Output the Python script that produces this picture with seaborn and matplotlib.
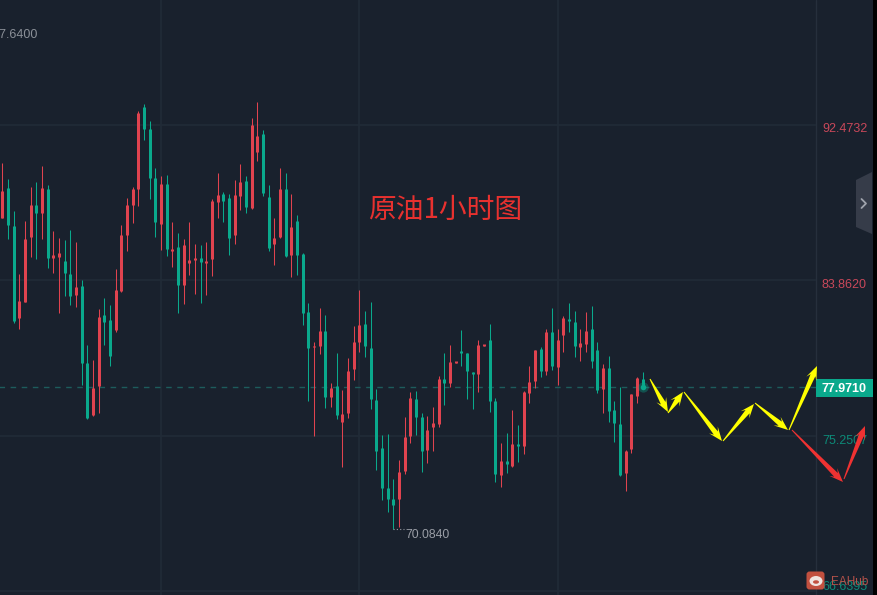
import numpy as np
import pandas as pd
import matplotlib
matplotlib.use("Agg")
import matplotlib.pyplot as plt
import matplotlib.patches as mpatches
import matplotlib.transforms as mtrans
import seaborn as sns

# K-line values
opens = [87.32, 88.98, 86.88, 81.78, 82.67, 86.27, 88.04, 87.60, 88.93, 85.11, 85.16, 84.94, 84.22, 83.06, 83.56, 79.29, 76.41, 78.02, 81.95,
         81.67, 81.12, 83.28, 86.38, 88.04, 88.93, 93.47, 92.25, 89.54, 86.99, 89.20, 85.49, 85.72, 83.61, 84.83, 85.00, 85.11, 84.83, 85.05,
         88.21, 88.65, 88.43, 86.38, 88.54, 89.37, 87.88, 90.98, 91.97, 88.48, 85.88, 86.27, 88.93, 85.27, 87.16, 85.33, 82.12, 80.18, 80.23,
         81.06, 77.41, 78.02, 76.02, 76.52, 78.96, 80.45, 81.45, 80.12, 77.24, 74.58, 72.37, 71.76, 71.76, 73.31, 75.25, 77.30, 76.30, 74.47,
         75.75, 75.92, 78.41, 78.19, 79.30, 79.91, 79.85, 78.74, 78.69, 80.24, 80.57, 77.19, 73.09, 73.87, 73.59, 74.81, 74.70, 77.64, 78.30,
         80.07, 78.85, 81.01, 79.08, 80.85, 81.73, 81.57, 80.18, 80.35, 81.18, 80.02, 77.86, 79.02, 76.69, 75.92, 73.21, 74.53, 77.47, 78.41]
highs = [90.35, 89.48, 87.71, 84.22, 87.16, 89.04, 89.31, 90.20, 89.15, 86.60, 86.21, 86.10, 86.66, 85.99, 83.89, 80.29, 79.46, 82.28, 82.89,
         82.50, 84.50, 86.93, 88.43, 89.04, 93.25, 93.63, 92.69, 90.09, 89.65, 89.70, 87.10, 86.49, 86.16, 87.10, 85.88, 85.83, 85.99, 88.37,
         89.81, 88.76, 88.65, 89.43, 90.31, 89.65, 92.86, 93.75, 92.19, 89.15, 87.32, 90.09, 89.81, 88.65, 87.49, 85.38, 82.61, 80.45, 82.34,
         81.95, 78.18, 79.84, 77.80, 79.57, 81.34, 83.33, 82.17, 82.67, 77.85, 75.30, 75.36, 72.87, 73.92, 76.30, 77.68, 77.74, 76.52, 76.36,
         76.86, 78.58, 79.85, 80.29, 79.35, 81.12, 79.85, 78.80, 80.57, 80.29, 81.46, 77.36, 74.87, 75.42, 76.69, 75.86, 77.75, 79.13, 80.02,
         80.18, 81.18, 82.34, 81.18, 81.90, 82.62, 82.18, 81.18, 82.12, 82.45, 80.46, 79.24, 79.68, 77.19, 77.97, 74.48, 77.58, 78.52, 78.80]
lows = [87.32, 86.16, 81.51, 81.17, 82.67, 85.16, 85.05, 86.16, 84.55, 84.28, 82.06, 83.00, 82.50, 82.39, 78.07, 76.19, 76.36, 76.52, 80.29,
        79.13, 81.01, 83.22, 85.49, 87.04, 87.99, 91.64, 88.37, 86.27, 85.55, 85.22, 84.61, 82.06, 82.56, 84.16, 83.11, 82.61, 83.06, 84.11,
        87.32, 87.10, 85.27, 85.88, 87.76, 87.60, 87.82, 90.48, 88.54, 85.49, 84.72, 86.21, 85.16, 84.05, 84.16, 81.40, 77.19, 75.25, 79.79,
        76.80, 76.85, 76.19, 73.53, 76.25, 78.35, 79.90, 79.62, 76.74, 73.37, 71.70, 71.04, 70.08, 70.21, 73.14, 74.86, 75.30, 73.25, 73.75,
        74.42, 75.75, 76.97, 77.97, 79.30, 79.13, 77.30, 76.75, 77.69, 80.24, 76.58, 72.71, 72.43, 73.21, 73.54, 73.81, 74.26, 77.08, 77.91,
        78.52, 78.63, 78.91, 78.08, 79.91, 81.01, 79.63, 79.41, 79.91, 79.02, 77.64, 76.53, 76.03, 74.92, 73.04, 72.21, 74.31, 77.08, 77.97]
closes = [88.82, 86.93, 81.62, 82.72, 86.16, 88.04, 87.60, 88.98, 85.11, 85.27, 85.38, 84.28, 83.00, 83.50, 79.29, 76.25, 77.91, 81.84, 81.56,
          79.68, 83.33, 86.38, 88.04, 88.93, 93.14, 92.25, 89.54, 87.10, 89.20, 85.60, 85.60, 83.61, 85.83, 85.00, 85.11, 84.88, 84.94, 88.26,
          88.60, 88.26, 86.21, 88.60, 89.31, 87.93, 92.47, 91.86, 88.71, 85.66, 86.21, 88.93, 85.22, 86.82, 85.27, 82.06, 80.12, 80.23, 81.06,
          77.41, 77.91, 76.41, 76.47, 78.85, 80.45, 81.40, 80.23, 77.30, 74.42, 72.37, 71.76, 71.43, 73.25, 75.19, 77.35, 76.30, 74.42, 75.58,
          75.97, 78.41, 78.19, 79.35, 79.35, 79.85, 78.85, 78.69, 80.29, 80.29, 77.19, 73.15, 73.87, 73.70, 74.81, 74.70, 77.69, 78.24, 80.02,
          78.85, 81.01, 79.13, 80.57, 81.79, 81.62, 80.24, 80.40, 81.07, 79.41, 77.80, 79.02, 76.64, 75.97, 73.09, 74.42, 77.58, 78.47, 77.97]

grid_prices = [92.4732, 83.8620, 75.2507, 66.6395]
grid_labels = ["92.4732", "83.8620", "75.2507", "66.6395"]
label_y = [129, 285, 441, 587]
grid_candles = [28, 63, 98]
last_price = 77.9710
low_price = 70.0840

# hand drawn arrows on top of the screenshot, in pixels
yellow_arrows = [((650, 379), (668, 412)), ((668, 413), (683, 392)), ((684, 392), (722, 441)),
                 ((723, 441), (754, 404)), ((755, 403), (788, 430)), ((789, 430), (817, 366))]
red_arrows = [((792, 430), (843, 482)), ((844, 479), (865, 426))]

BG = "#19212d"
RED = "#e0434f"
GREEN = "#0aa98c"
GRID = "#212b37"

sns.set_theme(style="dark", rc={"axes.facecolor": BG, "figure.facecolor": BG})
plt.rcParams["font.family"] = ["Liberation Sans", "Noto Sans CJK SC", "DejaVu Sans"]

df = pd.DataFrame({"open": opens, "high": highs, "low": lows, "close": closes})
df["idx"] = df.index
df["top"] = df[["open", "close"]].max(axis=1)
df["bottom"] = df[["open", "close"]].min(axis=1)
# flat candles still show as a small dash
df["top"] = np.maximum(df["top"], df["bottom"] + 0.08)
df["up"] = df["close"] >= df["open"]

fig = plt.figure(figsize=(8.77, 5.95), dpi=100)
ax = fig.add_axes([0, 0, 1, 1])

# pixel coordinates of the screenshot, for the things drawn over the chart
px = mtrans.Affine2D().scale(1, -1).translate(0, 595)

x_right = 143.5
for gx in grid_candles:
    ax.axvline(gx, color=GRID, lw=1.2, zorder=0)
ax.axvline(x_right, color="#262f3c", lw=1, zorder=0)
ax.hlines(grid_prices, -5, x_right, color=GRID, lw=1.2, zorder=0)
ax.hlines(last_price, -5, x_right, color="#1d5c5c", lw=1, linestyles=(0, (4, 4)), zorder=1)

# candles, wick and body both as vertical lines so they stay centred on each other
for up, col in [(True, RED), (False, GREEN)]:
    part = df[df["up"] == up]
    wicks = part.melt(id_vars="idx", value_vars=["low", "high"], value_name="price")
    bodies = part.melt(id_vars="idx", value_vars=["bottom", "top"], value_name="price")
    sns.lineplot(data=wicks, x="idx", y="price", units="idx", estimator=None, sort=False, color=col,
                 lw=0.75, solid_capstyle="butt", legend=False, ax=ax, zorder=2)
    sns.lineplot(data=bodies, x="idx", y="price", units="idx", estimator=None, sort=False, color=col,
                 lw=2.16, solid_capstyle="butt", legend=False, ax=ax, zorder=3)

ax.scatter([113], [last_price], s=55, color=GREEN, alpha=0.35, linewidths=0, zorder=4)
ax.scatter([113], [last_price], s=16, color=GREEN, linewidths=0, zorder=4)

ax.set_xlim(-0.411, 154.35)
ax.set_ylim(66.445, 99.396)
ax.set_xticks([])
ax.set_yticks([])
ax.set_xlabel("")
ax.set_ylabel("")
for s in ax.spines.values():
    s.set_visible(False)

# price labels
label_cols = ["#c9485a", "#c9485a", "#0d8a78", "#0d8a78"]
for lab, yy, col in zip(grid_labels, label_y, label_cols):
    ax.text(822, yy, lab, transform=px, color=col, fontsize=9, va="center", ha="left", zorder=6)

ax.text(-8, 35.5, "97.6400", transform=px, color="#8b9098", fontsize=9, va="center", ha="left", clip_on=True)
ax.text(405, 535, f"{low_price:.4f}", transform=px, color="#9a9ea6", fontsize=8.8, va="center", ha="left")
ax.plot([393, 404], [529, 529], transform=px, color="#9a9ea6", lw=0.8, ls=(0, (1, 2)))

# last price tag
ax.add_patch(mpatches.Rectangle((816, 379), 57, 18, transform=px, color=GREEN, lw=0, zorder=6))
ax.text(844.5, 388.5, f"{last_price:.4f}", transform=px, color="white", fontsize=9, fontweight="bold",
        va="center", ha="center", zorder=7)

ax.text(445, 210, "原油1小时图", transform=px, color="#e8312f", fontsize=20, va="center", ha="center",
        family=["Noto Sans CJK SC", "DejaVu Sans"], zorder=6)


def draw_arrow(p0, p1, col):
    # thin tail, widening shaft, barbed head
    p0 = np.array(p0, float)
    p1 = np.array(p1, float)
    d = p1 - p0
    n = np.linalg.norm(d)
    u = d / n
    v = np.array([-u[1], u[0]])
    neck = p1 - u * 10
    barb = p1 - u * 14
    pts = [p0 - v * 0.5, neck - v * 2.6, barb - v * 5.5, p1, barb + v * 5.5, neck + v * 2.6, p0 + v * 0.5]
    ax.add_patch(mpatches.Polygon(pts, closed=True, transform=px, facecolor=col, edgecolor="none", zorder=8))


for a, b in yellow_arrows:
    draw_arrow(a, b, "#ffff00")
for a, b in red_arrows:
    draw_arrow(a, b, "#f03232")

# collapse tab on the right
ax.add_patch(mpatches.Polygon([(872, 172), (856, 180), (856, 227), (872, 234)], closed=True, transform=px,
                              facecolor="#363c49", edgecolor="none", zorder=6))
ax.plot([861.5, 866, 861.5], [199, 203.5, 208], transform=px, color="#a0a4ad", lw=1.3, zorder=7)

# black edge of the screenshot
ax.add_patch(mpatches.Rectangle((873, 0), 4, 595, transform=px, color="black", lw=0, zorder=9))

# watermark
ax.add_patch(mpatches.FancyBboxPatch((807, 572), 17, 17, boxstyle="round,pad=0.5,rounding_size=3", transform=px,
                                     facecolor="#c2503f", edgecolor="none", zorder=7))
ax.add_patch(mpatches.Ellipse((816, 581), 13, 10, transform=px, facecolor="#f0e4e0", edgecolor="none", zorder=8))
ax.add_patch(mpatches.Ellipse((816, 582), 6, 3.5, transform=px, facecolor="#c2503f", edgecolor="none", zorder=8))
ax.text(831, 582, "EAHub", transform=px, color="#b5524a", fontsize=8.5, va="center", ha="left", zorder=8)

fig.savefig("out.png", dpi=100)
